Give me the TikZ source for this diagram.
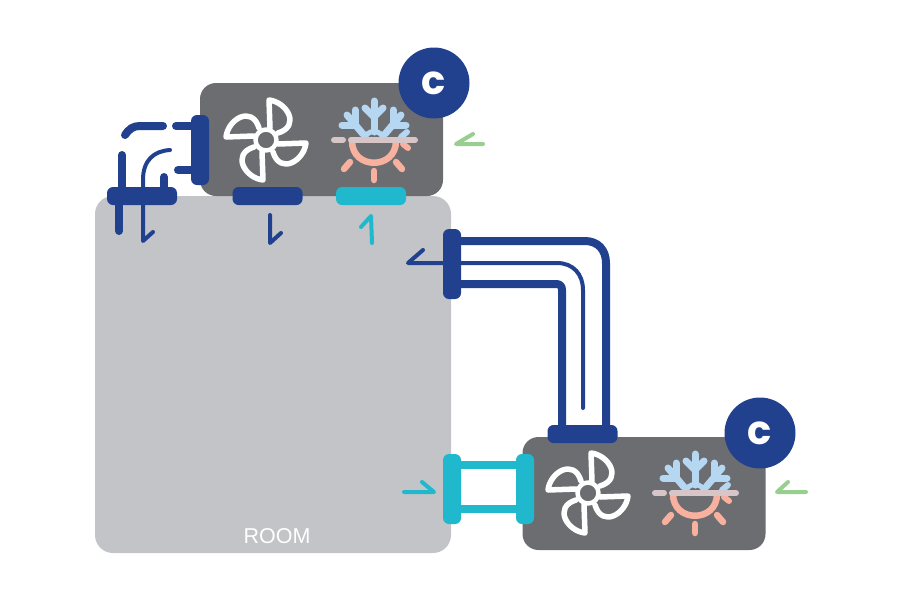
\documentclass[tikz,border=0pt]{standalone}
\usepackage{fontspec}
\setmainfont{Liberation Sans}
\newfontfamily\badgefont{Poppins}
\definecolor{navy}{HTML}{21418F}
\definecolor{teal}{HTML}{1FB8CD}
\definecolor{leaf}{HTML}{98CF90}
\definecolor{roomgrey}{HTML}{C3C4C8}
\definecolor{unitgrey}{HTML}{6C6D70}
\definecolor{snow}{HTML}{B5D7F2}
\definecolor{salmon}{HTML}{F8B19E}
\definecolor{divider}{HTML}{D8C5C8}
\begin{document}
\begin{tikzpicture}[
    x=1pt, y=-1pt,
    room/.style={fill=roomgrey, rounded corners=18pt, minimum width=356pt, minimum height=357pt, inner sep=0pt, outer sep=0pt},
    unit/.style={fill=unitgrey, rounded corners=16pt, minimum width=243pt, minimum height=113pt, inner sep=0pt, outer sep=0pt},
    hflange/.style={fill=#1, rounded corners=6pt, minimum width=70pt, minimum height=18pt, inner sep=0pt, outer sep=0pt},
    vflange/.style={fill=#1, rounded corners=6pt, minimum width=18pt, minimum height=70pt, inner sep=0pt, outer sep=0pt},
    badge/.style={circle, fill=navy, minimum size=71pt, inner sep=0pt, text=white, font=\badgefont\fontsize{40}{40}\selectfont\bfseries},
    tube/.style={line width=8pt, draw=#1, line cap=round},
    flowline/.style={line width=4pt, draw=#1, line cap=round, line join=round},
    blade/.style={draw=white, line width=5.5pt, line cap=round, line join=round},
    fanicon/.pic={
      \draw[blade, line width=4.5pt] (0,0) circle (10.5pt);
      \foreach \a in {0,90,180,270} {
        \begin{scope}[rotate=\a]
          \draw[blade] (4,-12) -- (3,-40) .. controls (21,-38) and (35,-14) .. (12,-7);
        \end{scope}
      }
    },
    snowsun/.pic={
      % sun half
      \draw[salmon, line width=6.5pt, line cap=round] (-22,1) .. controls (-22,30) and (22,30) .. (22,1);
      \draw[salmon, line width=6.5pt, line cap=round] (0,31) -- (0,40);
      \draw[salmon, line width=6.5pt, line cap=round] (-24,22) -- (-30,29);
      \draw[salmon, line width=6.5pt, line cap=round] (22,22) -- (28,29);
      \draw[salmon, line width=6pt, line cap=round] (29,4) -- (34,8);
      % snow half
      \draw[snow, line width=7pt, line cap=round] (0,-8) -- (0,-39);
      \draw[snow, line width=7pt, line cap=round] (-9,-32) -- (0,-23) -- (9,-32);
      \foreach \s in {-1,1} {
        \draw[snow, line width=7pt, line cap=round] (\s*11,-6) -- (\s*27,-25);
        \draw[snow, line width=7pt, line cap=round] (\s*19,-30) -- (\s*19,-15) -- (\s*32,-15);
      }
      \draw[snow, line width=5pt] (-9,-1) .. controls (-8,-11) and (8,-11) .. (9,-1);
      \draw[snow, line width=6pt, line cap=round] (33,-8) -- (27,-3);
      % divider
      \draw[divider, line width=6pt, line cap=round] (-40,0) -- (-31,0);
      \draw[divider, line width=6pt, line cap=round] (-23,0) -- (41,0);
    }
  ]
  \useasboundingbox (0,0) rectangle (900,600);

  % room and units
  \node[room] (room) at (273,374.5) {};
  \node[unit] (topunit) at (321.5,139.5) {};
  \node[unit] (lowunit) at (644,493.5) {};
  \node[white, font=\fontsize{21.5}{22}\selectfont] (roomlabel) at (277,536) {ROOM};

  % top unit
  \draw[tube=navy] (125,135) .. controls (129,129) and (133,126) .. (140,126) -- (163,126);
  \draw[tube=navy] (191,126) -- (176,126);
  \draw[tube=navy] (191,170) -- (178,170);
  \draw[tube=navy] (122,190) -- (122,155);
  \draw[tube=navy] (119,200) -- (119,231);
  \draw[tube=navy] (164,190) -- (164,177);
  \draw[flowline=navy] (170,150) .. controls (154,151) and (143,160) .. (143,180) -- (143,241) -- (153,232);
  \node[vflange=navy] (topduct) at (200,150) {};
  \node[hflange=navy] (topsupply) at (142,196) {};
  \node[hflange=navy] (topreturn) at (267.5,196) {};
  \node[hflange=teal] (topinlet) at (371,196) {};
  \pic at (266,140) {fanicon};
  \pic at (374,140) {snowsun};
  \node[badge] (topbadge) at (434,83) {c};

  % arrows round the top unit
  \draw[flowline=navy] (270,215) -- (270,243) -- (281,233);
  \draw[flowline=teal] (372,243) -- (371,216) -- (361,227);
  \draw[flowline=leaf] (483,144) -- (456,144) -- (473,134);

  % long duct
  \draw[tube=navy, line cap=butt] (461,241) -- (585,241) .. controls (598,241) and (606,250) .. (606,263) -- (606,430);
  \draw[tube=navy, line cap=butt, line join=round] (461,284) -- (556,284) .. controls (560,284) and (562,286) .. (562,290) -- (562,430);
  \draw[flowline=navy] (423,250) -- (408,263) -- (557,263) .. controls (573,263) and (583,274) .. (583,290) -- (583,408);
  \node[vflange=navy] (roomduct) at (452,264) {};
  \node[hflange=navy] (lowsupply) at (582.5,434) {};

  % low unit
  \draw[tube=teal, line cap=butt] (461,465) -- (516,465);
  \draw[tube=teal, line cap=butt] (461,509) -- (516,509);
  \node[vflange=teal] (roomspigot) at (452,489) {};
  \node[vflange=teal] (lowspigot) at (525,489) {};
  \pic at (588,493) {fanicon};
  \pic at (695,493) {snowsun};
  \node[badge] (lowbadge) at (760,433) {c};

  % arrows round the low unit
  \draw[flowline=teal] (404,492) -- (434,492) -- (422,482);
  \draw[flowline=leaf] (806,492) -- (777,492) -- (788,482);
\end{tikzpicture}
\end{document}
